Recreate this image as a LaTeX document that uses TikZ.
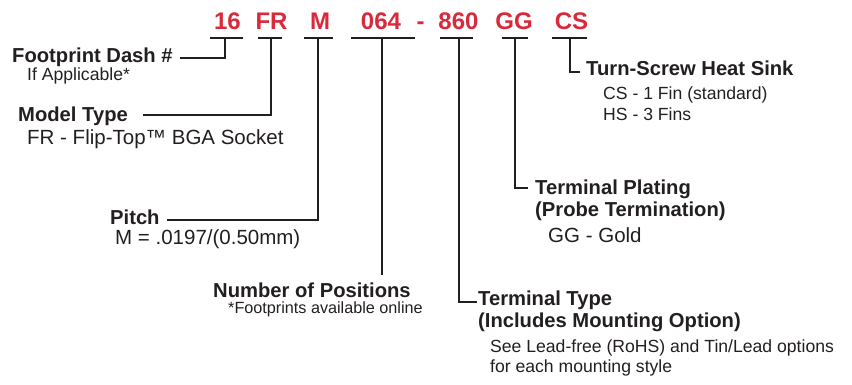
\documentclass[tikz,border=0pt]{standalone}
\usepackage{fontspec}
\setmainfont{Liberation Sans}
\definecolor{codered}{RGB}{218,41,58}
\definecolor{ink}{RGB}{35,31,32}
\begin{document}
\begin{tikzpicture}[x=1pt,y=-1pt,
  code/.style={font=\fontsize{24}{28}\selectfont\bfseries, text=codered, inner sep=0pt, anchor=base},
  head/.style={font=\fontsize{20.2}{24}\selectfont\bfseries, text=ink, inner sep=0pt, anchor=base west},
  desc/.style={font=\fontsize{17.6}{21}\selectfont, text=ink, inner sep=0pt, anchor=base west},
  bigdesc/.style={font=\fontsize{20.5}{24}\selectfont, text=ink, inner sep=0pt, anchor=base west},
  ln/.style={line width=1.6pt, draw=ink}]
\useasboundingbox (0,0) rectangle (852,385);
% part number codes
\node[code] (c16) at (227.5,30) {16};
\node[code] (cFR) at (271.5,30) {FR};
\node[code] (cM) at (320,30) {M};
\node[code] (c064) at (381,30) {064};
\node[code] (cdash) at (420.5,30) {-};
\node[code] (c860) at (458.5,30) {860};
\node[code] (cGG) at (514,30) {GG};
\node[code] (cCS) at (571.5,30) {CS};
% underline mid points
\coordinate (u16) at (225,38);
\coordinate (uFR) at (271,38);
\coordinate (uM) at (318,38);
\coordinate (u064) at (382,38);
\coordinate (u860) at (459,38);
\coordinate (uGG) at (515,38);
\coordinate (uCS) at (570,38);
\draw[ln] (210,38) -- (243,38);
\draw[ln] (258,38) -- (282,38);
\draw[ln] (304,38) -- (333,38);
\draw[ln] (351,38) -- (415,38);
\draw[ln] (440,38) -- (473,38);
\draw[ln] (502,38) -- (528,38);
\draw[ln] (552,38) -- (587,38);
% labels
\node[head] (fd) at (12,63) {Footprint Dash \#};
\node[desc] (fdd) at (27,81) {If Applicable*};
\node[head] (mt) at (18,122) {Model Type};
\node[bigdesc] (mtd) at (27,145) {FR - Flip-Top™ BGA Socket};
\node[head] (pi) at (110,225) {Pitch};
\node[bigdesc] (pid) at (115,244) {M = .0197/(0.50mm)};
\node[head] (np) at (213,297) {Number of Positions};
\node[desc, font=\fontsize{16.2}{19}\selectfont] (npd) at (228,313) {*Footprints available online};
\node[head] (tt) at (478,305) {Terminal Type};
\node[head] (tt2) at (478,327) {(Includes Mounting Option)};
\node[desc] (ttd) at (490,352) {See Lead-free (RoHS) and Tin/Lead options};
\node[desc] (ttd2) at (490,372) {for each mounting style};
\node[head] (tp) at (535,195) {Terminal Plating};
\node[head] (tp2) at (535,216) {(Probe Termination)};
\node[bigdesc] (tpd) at (548,242) {GG - Gold};
\node[head] (hs) at (586,76) {Turn-Screw Heat Sink};
\node[desc] (hsd) at (603,100) {CS - 1 Fin (standard)};
\node[desc] (hsd2) at (603,121) {HS - 3 Fins};
% connector free ends
\coordinate (e16) at (180,58);
\coordinate (eFR) at (143,115);
\coordinate (eM) at (167,220);
\coordinate (e064) at (382,275);
\coordinate (e860) at (477,302);
\coordinate (eGG) at (528,188);
\coordinate (eCS) at (580,72);
\draw[ln] (u16) |- (e16);
\draw[ln] (uFR) |- (eFR);
\draw[ln] (uM) |- (eM);
\draw[ln] (u064) -- (e064);
\draw[ln] (u860) |- (e860);
\draw[ln] (uGG) |- (eGG);
\draw[ln] (uCS) |- (eCS);
\end{tikzpicture}
\end{document}
